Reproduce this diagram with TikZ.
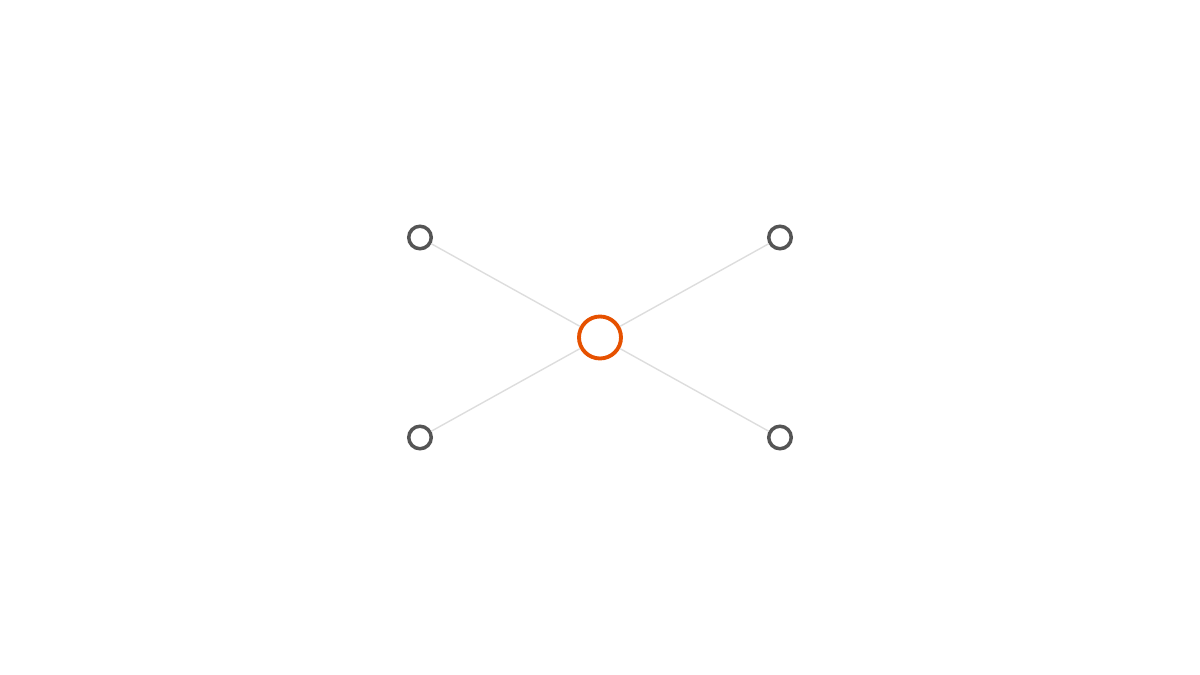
\documentclass[tikz,border=0pt]{standalone}
\usepackage{tikz}
\definecolor{hubcolor}{HTML}{E65100}
\definecolor{leafcolor}{HTML}{555555}
\definecolor{linkcolor}{HTML}{DDDDDD}
\tikzset{
    hub/.style={circle, draw=hubcolor, line width=1.1pt, inner sep=0pt, minimum size=0.42cm},
    leaf/.style={circle, draw=leafcolor, line width=1pt, inner sep=0pt, minimum size=0.225cm},
    link/.style={draw=linkcolor, line width=0.4pt}
}
\begin{document}
\begin{tikzpicture}
% Fix the canvas size
\useasboundingbox (0,0) rectangle (12,6.75);

% Centre node
\node[hub] (hub) at (6,3.375) {};

% Four outer nodes
\node[leaf] (nw) at (4.2,4.375) {};
\node[leaf] (ne) at (7.8,4.375) {};
\node[leaf] (sw) at (4.2,2.375) {};
\node[leaf] (se) at (7.8,2.375) {};

% Links to the centre
\foreach \n in {nw,ne,sw,se} {
    \draw[link] (hub) -- (\n);
}
\end{tikzpicture}
\end{document}
